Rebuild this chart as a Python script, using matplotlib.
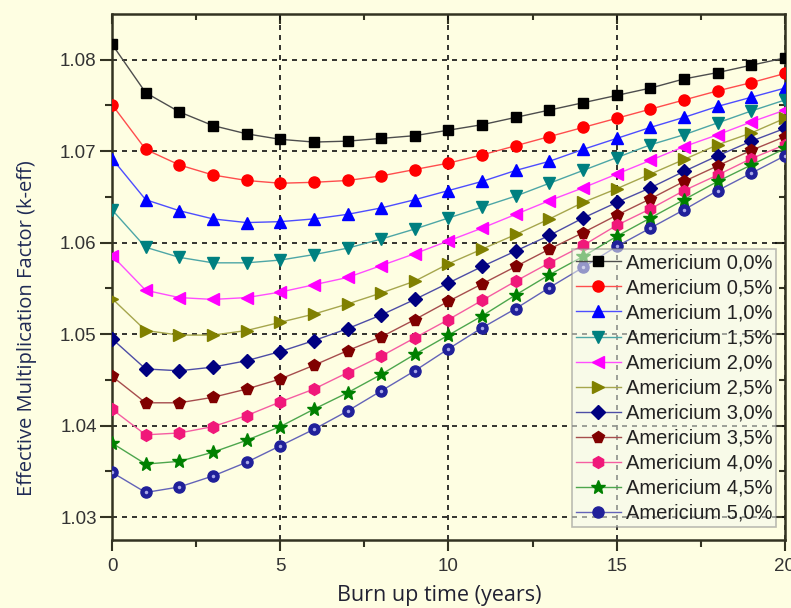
import numpy as np
import matplotlib
matplotlib.use('Agg')
import matplotlib.pyplot as plt
import matplotlib.colors as mcolors

plt.rcParams['font.family'] = ['Liberation Sans', 'DejaVu Sans']

# burn up time in years
years = np.arange(0, 21)

# k-eff, one list per americium content
am00 = [1.0817, 1.0764, 1.0743, 1.0728, 1.0719, 1.0713, 1.0710, 1.0711, 1.0714, 1.0717, 1.0723,
        1.0729, 1.0737, 1.0745, 1.0753, 1.0761, 1.0769, 1.0779, 1.0786, 1.0794, 1.0802]
am05 = [1.0751, 1.0702, 1.0685, 1.0674, 1.0668, 1.0665, 1.0666, 1.0668, 1.0673, 1.0680, 1.0687,
        1.0696, 1.0706, 1.0716, 1.0726, 1.0736, 1.0746, 1.0756, 1.0766, 1.0775, 1.0785]
am10 = [1.0692, 1.0647, 1.0635, 1.0626, 1.0622, 1.0623, 1.0626, 1.0631, 1.0638, 1.0647, 1.0657,
        1.0667, 1.0679, 1.0689, 1.0702, 1.0714, 1.0726, 1.0737, 1.0749, 1.0759, 1.0769]
am15 = [1.0636, 1.0595, 1.0584, 1.0578, 1.0578, 1.0581, 1.0587, 1.0594, 1.0604, 1.0615, 1.0627,
        1.0639, 1.0651, 1.0665, 1.0679, 1.0693, 1.0707, 1.0718, 1.0731, 1.0744, 1.0756]
am20 = [1.0586, 1.0548, 1.0540, 1.0538, 1.0540, 1.0546, 1.0554, 1.0562, 1.0575, 1.0588, 1.0602,
        1.0616, 1.0631, 1.0646, 1.0660, 1.0675, 1.0690, 1.0705, 1.0718, 1.0732, 1.0745]
am25 = [1.0539, 1.0504, 1.0499, 1.0499, 1.0504, 1.0513, 1.0522, 1.0533, 1.0545, 1.0558, 1.0577,
        1.0593, 1.0609, 1.0626, 1.0644, 1.0659, 1.0675, 1.0691, 1.0707, 1.0720, 1.0736]
am30 = [1.0495, 1.0462, 1.0460, 1.0464, 1.0471, 1.0481, 1.0493, 1.0506, 1.0521, 1.0538, 1.0556,
        1.0574, 1.0591, 1.0608, 1.0627, 1.0644, 1.0660, 1.0678, 1.0695, 1.0711, 1.0725]
am35 = [1.0454, 1.0425, 1.0425, 1.0431, 1.0440, 1.0451, 1.0466, 1.0482, 1.0497, 1.0516, 1.0536,
        1.0555, 1.0574, 1.0593, 1.0611, 1.0630, 1.0648, 1.0667, 1.0684, 1.0701, 1.0716]
am40 = [1.0418, 1.0390, 1.0392, 1.0399, 1.0411, 1.0426, 1.0440, 1.0458, 1.0476, 1.0496, 1.0516,
        1.0537, 1.0558, 1.0578, 1.0597, 1.0619, 1.0637, 1.0657, 1.0674, 1.0692, 1.0707]
am45 = [1.0381, 1.0358, 1.0361, 1.0371, 1.0384, 1.0399, 1.0418, 1.0436, 1.0456, 1.0478, 1.0499,
        1.0520, 1.0543, 1.0565, 1.0585, 1.0607, 1.0627, 1.0647, 1.0667, 1.0685, 1.0703]
am50 = [1.0349, 1.0327, 1.0333, 1.0345, 1.0360, 1.0378, 1.0396, 1.0416, 1.0438, 1.0460, 1.0484,
        1.0507, 1.0528, 1.0551, 1.0573, 1.0596, 1.0616, 1.0636, 1.0657, 1.0676, 1.0695]

series = [am00, am05, am10, am15, am20, am25, am30, am35, am40, am45, am50]
labels = ['Americium 0,0%', 'Americium 0,5%', 'Americium 1,0%', 'Americium 1,5%',
          'Americium 2,0%', 'Americium 2,5%', 'Americium 3,0%', 'Americium 3,5%',
          'Americium 4,0%', 'Americium 4,5%', 'Americium 5,0%']

colorz = ['#000000', '#ff0000', '#0000ff', '#008080', '#ff00ff', '#808000',
          '#000080', '#800000', '#f0187a', '#008000', '#20209a']
markerz = ['s', 'o', '^', 'v', '<', '>', 'D', 'p', 'h', '*', 'o']
sizez = [7, 8, 8, 8, 8, 8, 7, 8.5, 8.5, 10, 8]


def lighter(c, f=0.3):  # line is a bit paler than the marker
    r, g, b = mcolors.to_rgb(c)
    return (r + (1 - r) * f, g + (1 - g) * f, b + (1 - b) * f)


bg = '#fefee2'
fig = plt.figure(figsize=(7.91, 6.08), dpi=100, facecolor=bg)
ax = fig.add_axes([0.1416, 0.1118, 0.8508, 0.8652], facecolor=bg)

for j in range(len(series)):
    ax.plot(years, series[j], color=lighter(colorz[j]), lw=1.0, marker=markerz[j],
            ms=sizez[j], mec=colorz[j], mfc=colorz[j], label=labels[j], zorder=3)
# shiny spot on the 5,0% balls
ax.plot(years, am50, ls='none', marker='o', ms=2.5, mfc='#a8a8e8', mec='none', zorder=4)

ax.set_xlim(0, 20)
ax.set_ylim(1.0275, 1.085)
xmaj = [0, 5, 10, 15, 20]
xmin = [2.5, 7.5, 12.5, 17.5]
ymaj = [1.03, 1.04, 1.05, 1.06, 1.07, 1.08]
ymin = [1.035, 1.045, 1.055, 1.065, 1.075]
ax.set_xticks(xmaj)
ax.set_xticks(xmin, minor=True)
ax.set_yticks(ymaj)
ax.set_yticks(ymin, minor=True)
ax.set_yticklabels(['1.03', '1.04', '1.05', '1.06', '1.07', '1.08'])

ax.grid(True, which='major', color='#111111', ls=(0, (3, 3)), lw=1.2, zorder=1)
for s in ax.spines.values():
    s.set_linewidth(1.8)
    s.set_color('#333322')

ax.tick_params(which='both', direction='out', top=False, right=False,
               labelsize=13.5, labelcolor='#333333', color='#333322', width=1.5)
ax.tick_params(axis='y', which='major', length=9, pad=2)
ax.tick_params(axis='x', which='major', length=8, pad=5)
ax.tick_params(which='minor', length=5)
# mirrored ticks on top and right point inward
sec_x = ax.secondary_xaxis('top')
sec_x.set_xticks(xmaj)
sec_x.set_xticks(xmin, minor=True)
sec_x.tick_params(which='both', direction='in', labeltop=False, width=1.5, color='#333322')
sec_x.tick_params(which='major', length=7)
sec_x.tick_params(which='minor', length=4)
sec_y = ax.secondary_yaxis('right')
sec_y.set_yticks(ymaj)
sec_y.set_yticks(ymin, minor=True)
sec_y.tick_params(which='both', direction='in', labelright=False, width=1.5, color='#333322')
sec_y.tick_params(which='major', length=7)
sec_y.tick_params(which='minor', length=4)
for s in sec_x.spines.values():
    s.set_visible(False)
for s in sec_y.spines.values():
    s.set_visible(False)

ax.set_xlabel('Burn up time (years)', fontsize=15.5, family='Open Sans', color='#222233')
ax.xaxis.set_label_coords(0.487, -0.086)
ax.set_ylabel('Effective Multiplication Factor (k-eff)', fontsize=14.5, family='Open Sans',
              color='#1f2a55')
ax.yaxis.set_label_coords(-0.111, 0.402)

leg = ax.legend(loc='lower right', bbox_to_anchor=(0.987, 0.025), borderaxespad=0,
                prop={'family': 'Liberation Sans', 'size': 14.5}, labelspacing=0.3,
                handlelength=2.2, handletextpad=0.25, borderpad=0.2,
                frameon=True, fancybox=False, framealpha=0.55)
leg.get_frame().set_edgecolor('#888888')
leg.get_frame().set_facecolor('#f4f8ee')
leg.get_frame().set_linewidth(1.2)
for t in leg.get_texts():
    t.set_color('#222222')

plt.savefig('out.png', dpi=100, facecolor=bg)
